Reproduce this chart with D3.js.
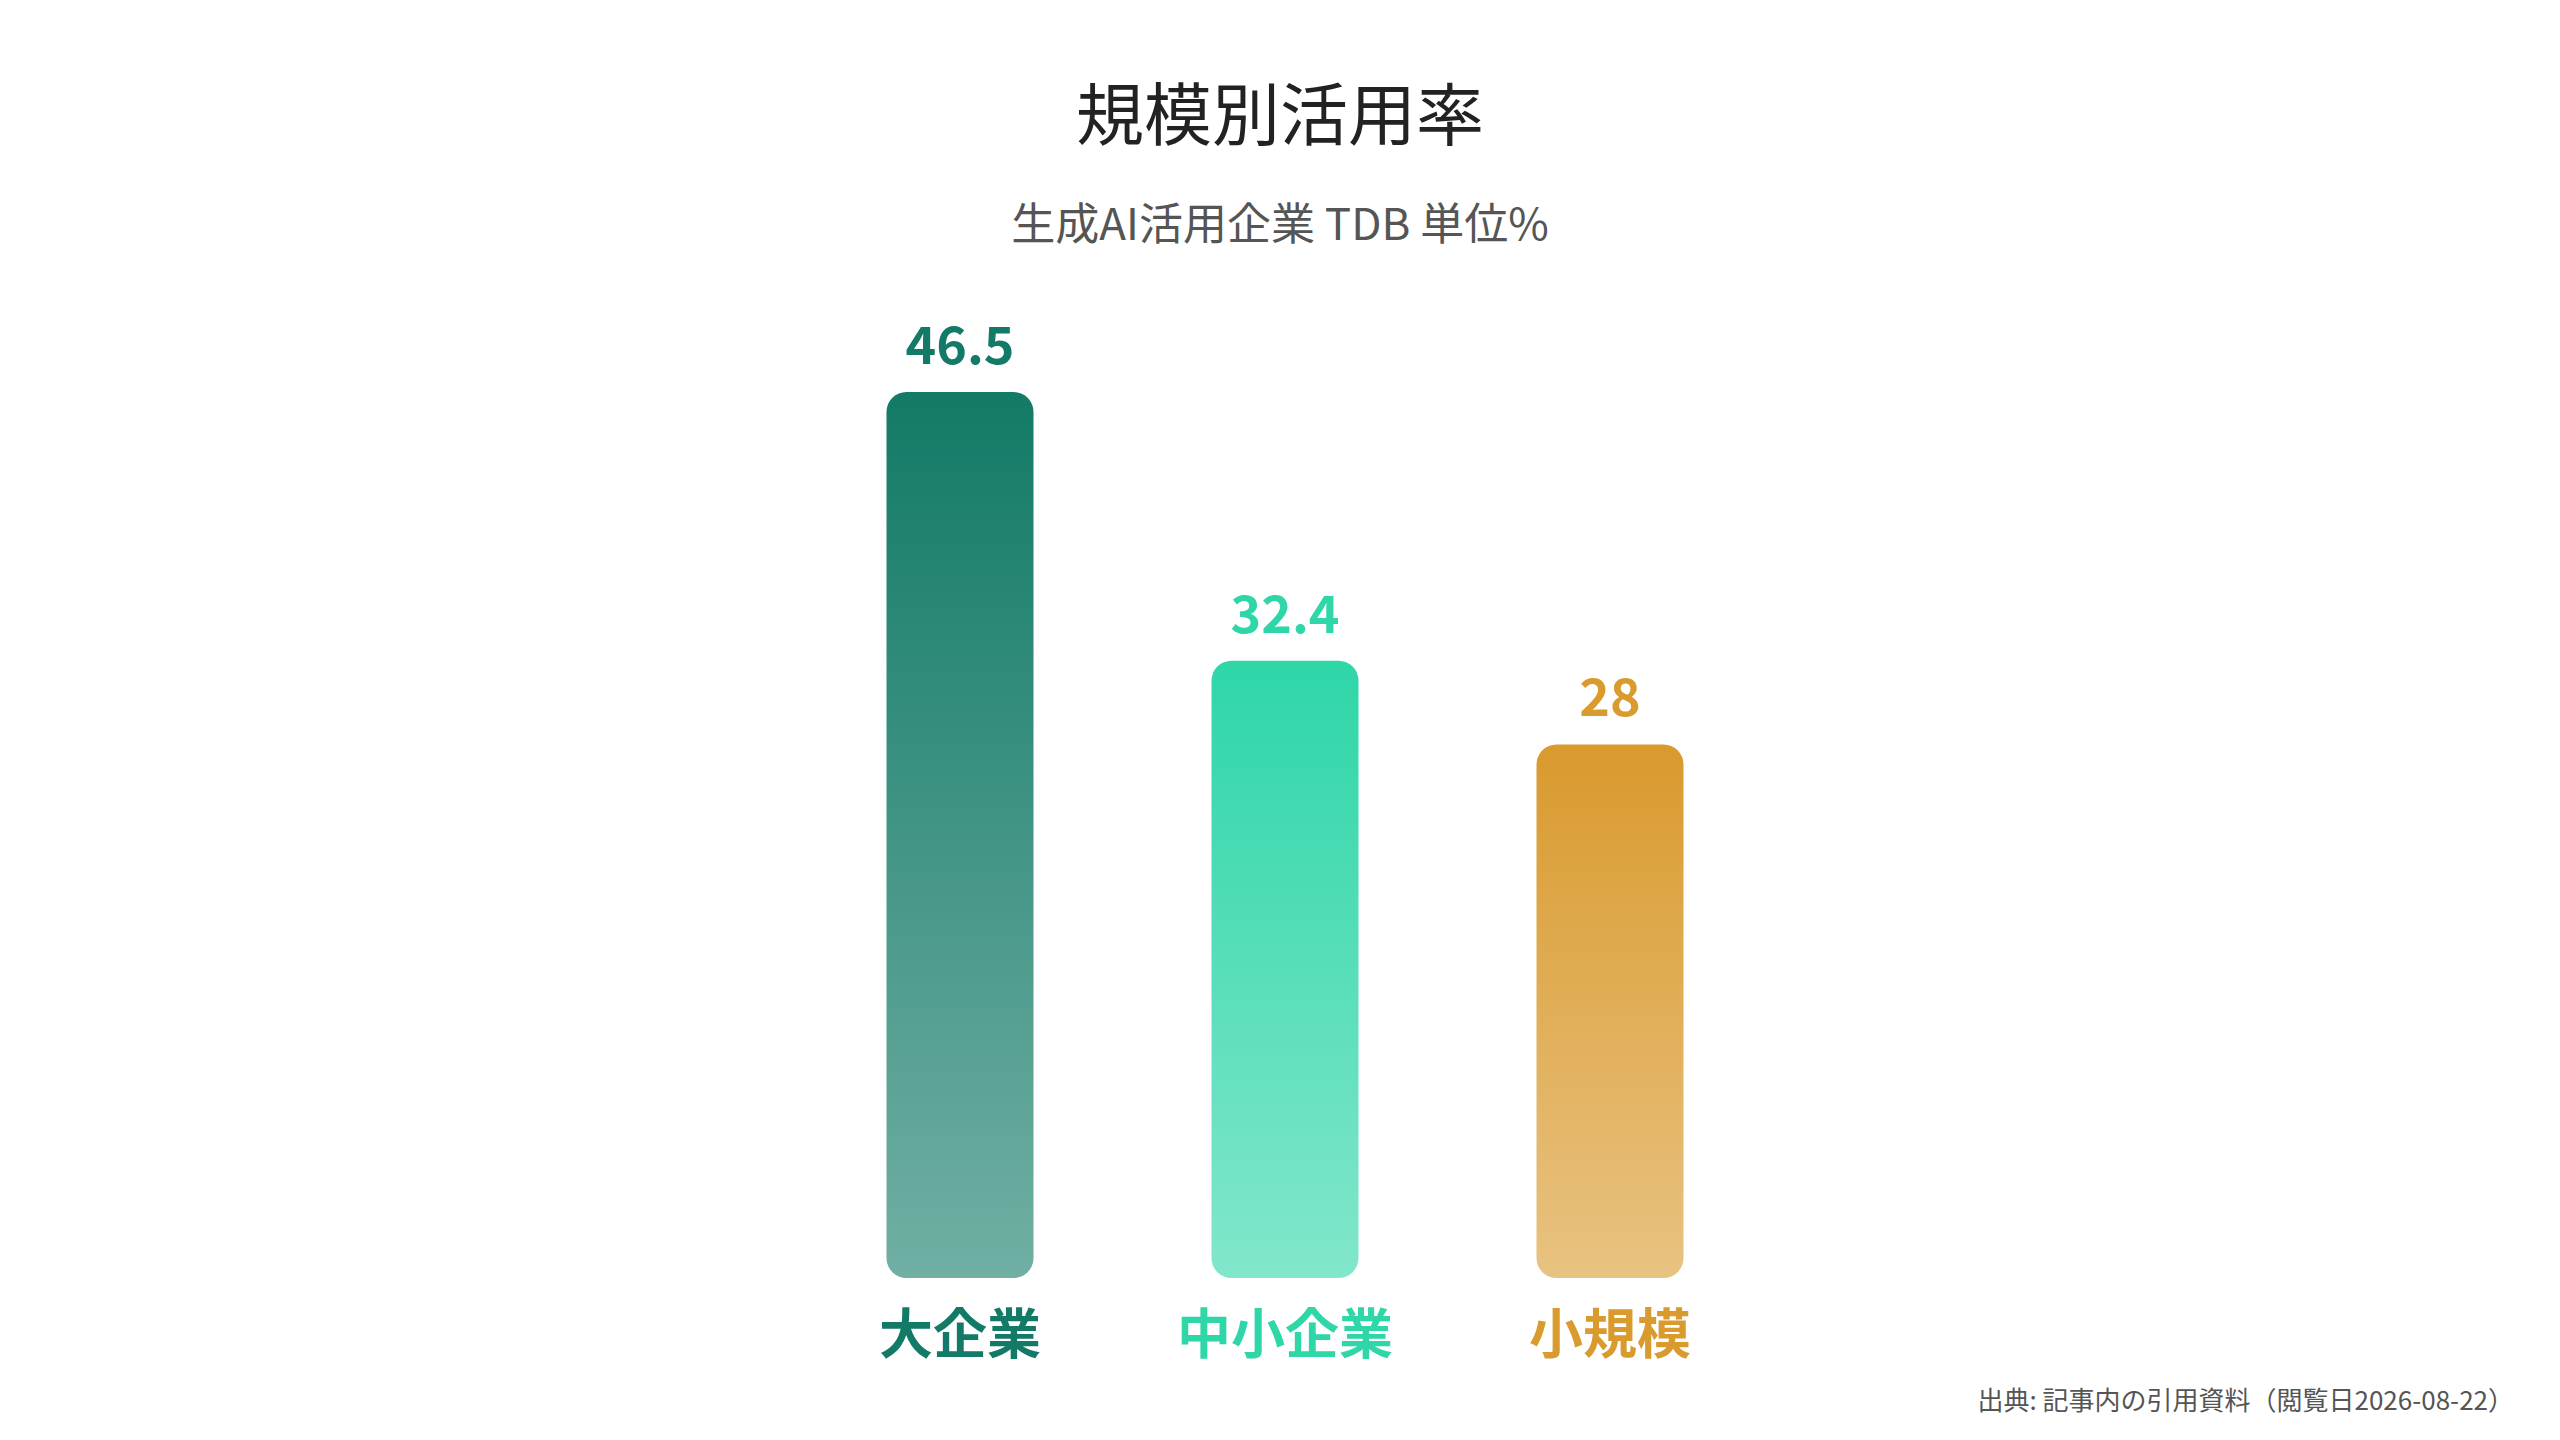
<!DOCTYPE html>
<html><head><meta charset="utf-8">
<script src="https://cdn.jsdelivr.net/npm/d3@7"></script>
<style>body{margin:0;background:#fff}svg{display:block}text{font-family:"Noto Sans CJK JP","Noto Sans",sans-serif}</style>
</head><body><svg id="c" width="2560" height="1440"></svg>
<script>
const categories=["大企業","中小企業","小規模"];
const values=[46.5,32.4,28];
const colors=["#127a66","#2ed6a8","#d99a2e"];
const svg=d3.select("#c");
const x=d3.scalePoint().domain(categories).range([960,1610]);
const y=d3.scaleLinear().domain([0,46.5]).range([1278,392]);
const bw=147;
const defs=svg.append("defs");
categories.forEach((c,i)=>{
  const g=defs.append("linearGradient").attr("id","g"+i).attr("x1",0).attr("x2",0).attr("y1",0).attr("y2",1);
  g.append("stop").attr("offset","0%").attr("stop-color",colors[i]).attr("stop-opacity",1);
  g.append("stop").attr("offset","100%").attr("stop-color",colors[i]).attr("stop-opacity",0.6);
});
svg.append("text").attr("x",1280).attr("y",140).attr("text-anchor","middle").attr("font-size",68).attr("fill","#222").text("規模別活用率");
svg.append("text").attr("x",1280).attr("y",240).attr("text-anchor","middle").attr("font-size",44).attr("fill","#555").text("生成AI活用企業 TDB 単位%");
const g=svg.append("g");
g.selectAll("rect").data(values).join("rect")
 .attr("x",(d,i)=>x(categories[i])-bw/2).attr("width",bw)
 .attr("y",d=>y(d)).attr("height",d=>y(0)-y(d))
 .attr("rx",20).attr("fill",(d,i)=>`url(#g${i})`);
g.selectAll("text.v").data(values).join("text").attr("class","v")
 .attr("x",(d,i)=>x(categories[i])).attr("y",d=>y(d)-28)
 .attr("text-anchor","middle").attr("font-size",52).attr("font-weight","bold")
 .attr("fill",(d,i)=>colors[i]).text(d=>d);
g.selectAll("text.c").data(categories).join("text").attr("class","c")
 .attr("x",d=>x(d)).attr("y",1354)
 .attr("text-anchor","middle").attr("font-size",54).attr("font-weight","bold")
 .attr("fill",(d,i)=>colors[i]).text(d=>d);
svg.append("text").attr("x",2514).attr("y",1410).attr("text-anchor","end").attr("font-size",26).attr("fill","#555").text("出典: 記事内の引用資料（閲覧日2026-08-22）");
</script></body></html>
